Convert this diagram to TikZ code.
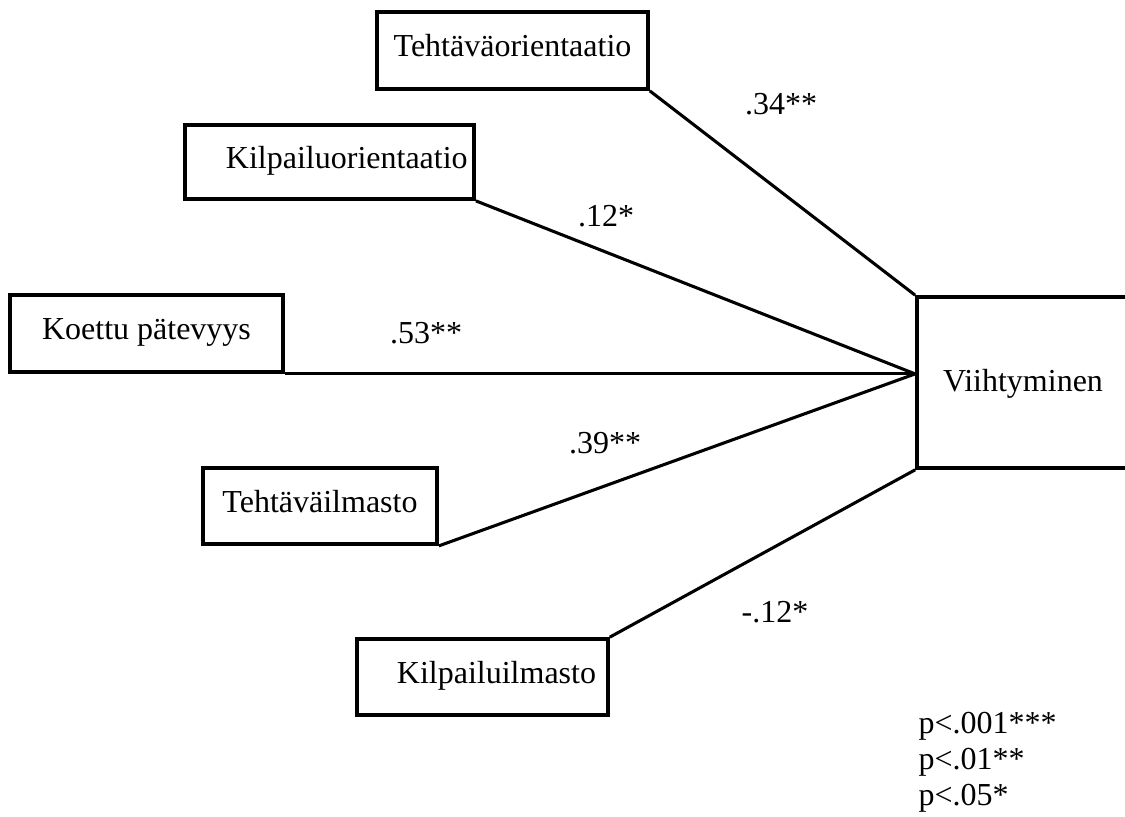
\documentclass[tikz,border=0pt]{standalone}
\usepackage{fontspec}
\setmainfont{Liberation Serif}
\usetikzlibrary{positioning,calc}

\begin{document}
\begin{tikzpicture}[
    x=0.375pt, y=-0.375pt,
    font=\fontsize{12}{13.5}\selectfont,
    squarednode/.style={rectangle, draw=black, line width=1.4pt, inner sep=0pt, text height=0.7em, text depth=0.25em},
    tallrectangle/.style={squarednode, minimum width=79.5pt, minimum height=64.1pt, text depth=0pt},
    coefflabel/.style={inner sep=0pt},
    pathline/.style={line width=1.15pt},
    ]
    \path[use as bounding box, clip] (0,0) rectangle (1125,816);

    %Nodes
    \node[squarednode, minimum width=101.6pt, minimum height=28.9pt]  (tehtor)   at (512.5,50.5)  {Tehtäväorientaatio};
    \node[squarednode, minimum width=108.4pt, minimum height=27.75pt] (kilpor)   at (329.5,162)   {\hspace*{13pt}Kilpailuorientaatio};
    \node[squarednode, minimum width=102.4pt, minimum height=28.9pt]  (patevyys) at (146.5,333.5) {Koettu pätevyys};
    \node[squarednode, minimum width=87.75pt, minimum height=28.5pt]  (tehtilm)  at (320,506)     {Tehtäväilmasto};
    \node[squarednode, minimum width=94.1pt, minimum height=28.5pt]   (kilpilm)  at (482.5,677)   {\hspace*{10.5pt}Kilpailuilmasto};
    \node[tallrectangle]                                              (viiht)    at (1023,382.5)  {Viihtyminen};
    \coordinate (meet) at (viiht.west |- patevyys.south east);

    % Text labels (outside nodes)
    \node[coefflabel] (coef34) at (781,104) {.34**};
    \node[coefflabel] (coef12) at (606,216) {.12*};
    \node[coefflabel] (coef53) at (426,333) {.53**};
    \node[coefflabel] (coef39) at (605,443) {.39**};
    \node[coefflabel] (coefm12) at (775,612) {-.12*};
    \node[coefflabel, align=left, anchor=west] (pvalues) at (918,762) {p<.001***\\p<.01**\\p<.05*};

    %Lines
    \draw[pathline] (tehtor.south east)   -- (viiht.north west);
    \draw[pathline] (kilpor.south east)   -- (meet);
    \draw[pathline] (patevyys.south east) -- (meet);
    \draw[pathline] (tehtilm.south east)  -- (meet);
    \draw[pathline] (kilpilm.north east)  -- (viiht.south west);
\end{tikzpicture}
\end{document}
